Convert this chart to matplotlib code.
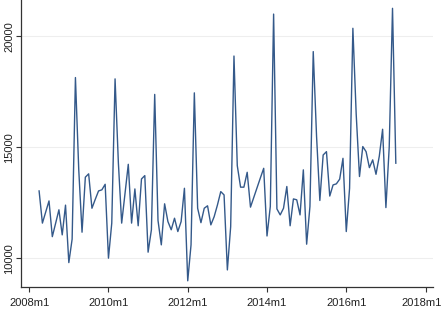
import numpy as np
import matplotlib
matplotlib.use("Agg")
import matplotlib.pyplot as plt

# Monthly series, 2008m4 .. 2017m4
start_year, start_month = 2008, 4
v2008 = [13030, 11580, 12080, 12580, 10970, 11570, 12180, 11050, 12390]
v2009 = [9800, 10860, 18140, 14000, 11170, 13650, 13800, 12250, 12650, 13030, 13080, 13330]
v2010 = [10000, 11580, 18080, 14300, 11580, 12900, 14230, 11580, 13120, 11460, 13570, 13720]
v2011 = [10270, 11280, 17380, 11700, 10600, 12450, 11650, 11280, 11800, 11200, 11650, 13150]
v2012 = [8980, 10600, 17450, 12250, 11600, 12250, 12360, 11500, 11870, 12400, 13000, 12850]
v2013 = [9470, 11420, 19110, 14170, 13200, 13200, 13870, 12300, 12740, 13180, 13620, 14050]
v2014 = [11000, 12330, 21000, 12220, 11950, 12250, 13230, 11460, 12670, 12630, 11950, 13980]
v2015 = [10630, 12330, 19310, 15500, 12600, 14650, 14800, 12800, 13300, 13350, 13560, 14500]
v2016 = [11200, 13150, 20360, 16500, 13680, 15030, 14800, 14080, 14430, 13780, 14600, 15810]
v2017 = [12280, 15000, 21260, 14280]

values = v2008 + v2009 + v2010 + v2011 + v2012 + v2013 + v2014 + v2015 + v2016 + v2017
tick_years = [2008, 2010, 2012, 2014, 2016, 2018]
tick_labels = [f"{y}m1" for y in tick_years]
ytick_values = [10000, 15000, 20000]

# months since 2008m1
x0 = (start_year - 2008) * 12 + (start_month - 1)
x = np.arange(x0, x0 + len(values))
xticks = [(y - 2008) * 12 for y in tick_years]

plt.rcParams['font.family'] = ['Liberation Sans', 'DejaVu Sans']

fig = plt.figure(figsize=(4.43, 3.23), dpi=100)
ax = fig.add_axes([0.048, 0.111, 0.929, 0.889])

ax.plot(x, values, color='#34598a', linewidth=1.0)

ax.set_xlim(-2.4, 122.2)
ax.set_ylim(8694, 21635)

tick_len, tick_pad = 3.5, 4.0
ax.set_xticks(xticks)
# last label drawn separately (nudged left so it stays inside the figure)
ax.set_xticklabels(tick_labels[:-1] + [''], fontsize=8.0, color='#222222')
ax.annotate(tick_labels[-1], xy=(xticks[-1], 0), xycoords=('data', 'axes fraction'),
            xytext=(-2.5, -(tick_len + tick_pad)), textcoords='offset points',
            ha='center', va='top', fontsize=8.0, color='#222222', annotation_clip=False)

ax.set_yticks(ytick_values)
ax.set_yticklabels([str(v) for v in ytick_values], fontsize=8.0, rotation=90,
                   va='center', color='#222222')

ax.yaxis.grid(True, color='#eeeeee', linewidth=0.8)
ax.xaxis.grid(False)
ax.set_axisbelow(True)

for s in ['top', 'right']:
    ax.spines[s].set_visible(False)
for s in ['left', 'bottom']:
    ax.spines[s].set_color('#333333')
    ax.spines[s].set_linewidth(0.9)

ax.tick_params(axis='x', length=tick_len, width=0.8, color='#333333', pad=tick_pad)
ax.tick_params(axis='y', length=3.5, width=0.8, color='#333333', pad=1.5)

fig.savefig('out.png', dpi=100, facecolor='white')
